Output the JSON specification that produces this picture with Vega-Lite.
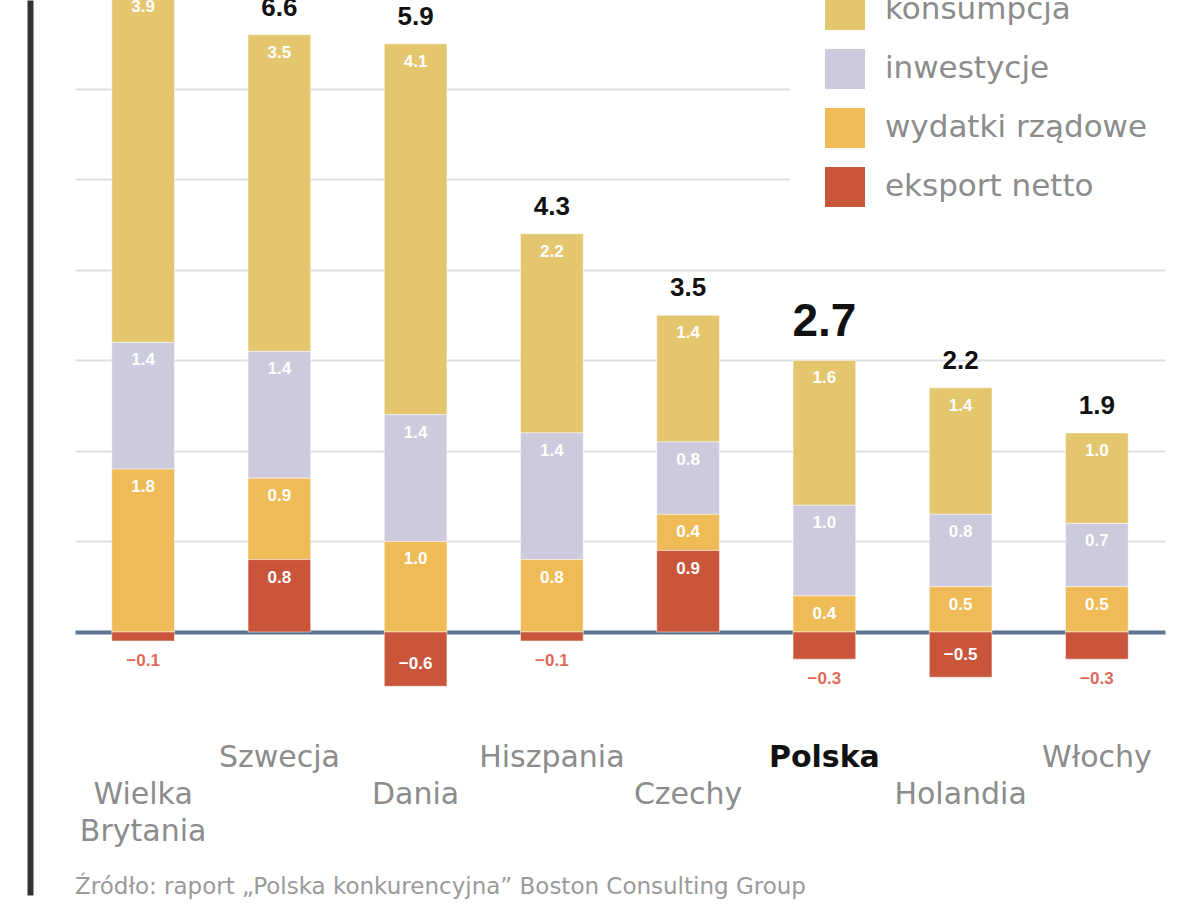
{
  "$schema": "https://vega.github.io/schema/vega-lite/v6.json",
  "width": 1090,
  "height": 895,
  "autosize": "none",
  "padding": {"left": 75, "top": 0, "right": 35, "bottom": 28},
  "background": "white",
  "config": {"view": {"stroke": null}, "font": "DejaVu Sans"},
  "title": {
    "text": "Źródło: raport „Polska konkurencyjna” Boston Consulting Group",
    "orient": "bottom",
    "anchor": "start",
    "frame": "group",
    "offset": -19,
    "baseline": "top",
    "fontSize": 23,
    "fontWeight": "normal",
    "color": "#9a9a9a"
  },
  "data": {
    "values": [
      {"kraj": "Wielka Brytania", "kategoria": "konsumpcja", "wartosc": 3.9},
      {"kraj": "Wielka Brytania", "kategoria": "inwestycje", "wartosc": 1.4},
      {"kraj": "Wielka Brytania", "kategoria": "wydatki rządowe", "wartosc": 1.8},
      {"kraj": "Wielka Brytania", "kategoria": "eksport netto", "wartosc": -0.1},
      {"kraj": "Szwecja", "kategoria": "konsumpcja", "wartosc": 3.5},
      {"kraj": "Szwecja", "kategoria": "inwestycje", "wartosc": 1.4},
      {"kraj": "Szwecja", "kategoria": "wydatki rządowe", "wartosc": 0.9},
      {"kraj": "Szwecja", "kategoria": "eksport netto", "wartosc": 0.8},
      {"kraj": "Dania", "kategoria": "konsumpcja", "wartosc": 4.1},
      {"kraj": "Dania", "kategoria": "inwestycje", "wartosc": 1.4},
      {"kraj": "Dania", "kategoria": "wydatki rządowe", "wartosc": 1.0},
      {"kraj": "Dania", "kategoria": "eksport netto", "wartosc": -0.6},
      {"kraj": "Hiszpania", "kategoria": "konsumpcja", "wartosc": 2.2},
      {"kraj": "Hiszpania", "kategoria": "inwestycje", "wartosc": 1.4},
      {"kraj": "Hiszpania", "kategoria": "wydatki rządowe", "wartosc": 0.8},
      {"kraj": "Hiszpania", "kategoria": "eksport netto", "wartosc": -0.1},
      {"kraj": "Czechy", "kategoria": "konsumpcja", "wartosc": 1.4},
      {"kraj": "Czechy", "kategoria": "inwestycje", "wartosc": 0.8},
      {"kraj": "Czechy", "kategoria": "wydatki rządowe", "wartosc": 0.4},
      {"kraj": "Czechy", "kategoria": "eksport netto", "wartosc": 0.9},
      {"kraj": "Polska", "kategoria": "konsumpcja", "wartosc": 1.6},
      {"kraj": "Polska", "kategoria": "inwestycje", "wartosc": 1.0},
      {"kraj": "Polska", "kategoria": "wydatki rządowe", "wartosc": 0.4},
      {"kraj": "Polska", "kategoria": "eksport netto", "wartosc": -0.3},
      {"kraj": "Holandia", "kategoria": "konsumpcja", "wartosc": 1.4},
      {"kraj": "Holandia", "kategoria": "inwestycje", "wartosc": 0.8},
      {"kraj": "Holandia", "kategoria": "wydatki rządowe", "wartosc": 0.5},
      {"kraj": "Holandia", "kategoria": "eksport netto", "wartosc": -0.5},
      {"kraj": "Włochy", "kategoria": "konsumpcja", "wartosc": 1.0},
      {"kraj": "Włochy", "kategoria": "inwestycje", "wartosc": 0.7},
      {"kraj": "Włochy", "kategoria": "wydatki rządowe", "wartosc": 0.5},
      {"kraj": "Włochy", "kategoria": "eksport netto", "wartosc": -0.3}
    ]
  },
  "transform": [
    {"calculate": "indexof(['eksport netto', 'wydatki rządowe', 'inwestycje', 'konsumpcja'], datum.kategoria)", "as": "kolejnosc"}
  ],
  "encoding": {
    "x": {
      "field": "kraj",
      "type": "nominal",
      "sort": null,
      "scale": {"paddingInner": 0.54, "paddingOuter": 0.27},
      "axis": {
        "orient": "bottom",
        "offset": -153,
        "title": null,
        "domain": false,
        "ticks": false,
        "labelAngle": 0,
        "labelPadding": 0,
        "labelBaseline": "top",
        "labelFontSize": 30,
        "labelLineHeight": 37,
        "labelOverlap": false,
        "labelLimit": 0,
        "labelExpr": "datum.value == 'Wielka Brytania' ? ['', 'Wielka', 'Brytania'] : indexof(['Dania', 'Czechy', 'Holandia'], datum.value) >= 0 ? ['', '', datum.value] : datum.value",
        "labelColor": {"condition": {"test": "datum.value == 'Polska'", "value": "#111111"}, "value": "#8c8c8c"},
        "labelFontWeight": {"condition": {"test": "datum.value == 'Polska'", "value": "bold"}, "value": "normal"}
      }
    },
    "y": {
      "field": "wartosc",
      "type": "quantitative",
      "stack": "zero",
      "scale": {"domain": [-2.906, 6.983], "nice": false, "zero": false},
      "axis": {
        "orient": "left",
        "offset": 45,
        "title": null,
        "labels": false,
        "ticks": false,
        "domainColor": "#333333",
        "domainWidth": 6,
        "grid": true,
        "values": [0, 1, 2, 3, 4, 5, 6],
        "gridColor": {"condition": {"test": "datum.value === 0", "value": "#5b7590"}, "value": "#d9dee4"},
        "gridWidth": {"condition": {"test": "datum.value === 0", "value": 4}, "value": 2}
      }
    },
    "order": {"field": "kolejnosc", "type": "quantitative"}
  },
  "layer": [
    {
      "mark": {"type": "bar", "clip": true, "stroke": "white", "strokeWidth": 0.5},
      "encoding": {
        "color": {
          "field": "kategoria",
          "type": "nominal",
          "scale": {
            "domain": ["konsumpcja", "inwestycje", "wydatki rządowe", "eksport netto"],
            "range": ["#e3c66e", "#cccadc", "#efbb56", "#c9553b"]
          },
          "legend": {
            "orient": "none",
            "legendX": 715,
            "legendY": -45,
            "title": null,
            "fillColor": "white",
            "padding": 35,
            "symbolType": "square",
            "symbolSize": 1600,
            "symbolStrokeWidth": 0,
            "symbolOpacity": 1,
            "rowPadding": 19,
            "labelFont": "DejaVu Sans",
            "labelFontSize": 31,
            "labelColor": "#8c8c8c",
            "labelOffset": 20,
            "labelLimit": 0
          }
        }
      }
    },
    {
      "transform": [{"filter": "datum.wartosc > 0"}],
      "mark": {"type": "text", "color": "white", "font": "Liberation Sans", "fontSize": 17, "fontWeight": "bold", "baseline": "middle", "dy": 18},
      "encoding": {
        "detail": {"field": "kategoria"},
        "text": {"field": "wartosc", "type": "quantitative", "format": ".1f"}
      }
    },
    {
      "transform": [{"filter": "datum.wartosc < 0 && datum.wartosc > -0.45"}],
      "mark": {"type": "text", "color": "#dd6a5a", "font": "Liberation Sans", "fontSize": 17, "fontWeight": "bold", "baseline": "middle", "dy": 20},
      "encoding": {
        "detail": {"field": "kategoria"},
        "text": {"field": "wartosc", "type": "quantitative", "format": ".1f"}
      }
    },
    {
      "transform": [{"filter": "datum.wartosc <= -0.45"}],
      "mark": {"type": "text", "color": "white", "font": "Liberation Sans", "fontSize": 17, "fontWeight": "bold", "baseline": "middle", "dy": -22},
      "encoding": {
        "detail": {"field": "kategoria"},
        "text": {"field": "wartosc", "type": "quantitative", "format": ".1f"}
      }
    },
    {
      "transform": [
        {"joinaggregate": [{"op": "sum", "field": "wartosc", "as": "suma"}], "groupby": ["kraj"]},
        {"filter": "datum.wartosc > 0"},
        {"aggregate": [{"op": "sum", "field": "wartosc", "as": "szczyt"}, {"op": "max", "field": "suma", "as": "suma"}], "groupby": ["kraj"]}
      ],
      "mark": {"type": "text", "color": "#111111", "font": "Liberation Sans", "fontWeight": "bold", "baseline": "bottom", "dy": -14},
      "encoding": {
        "y": {
          "field": "szczyt",
          "type": "quantitative",
          "scale": {"domain": [-2.906, 6.983], "nice": false, "zero": false},
          "axis": {
            "orient": "left",
            "offset": 45,
            "title": null,
            "labels": false,
            "ticks": false,
            "domainColor": "#333333",
            "domainWidth": 6,
            "grid": true,
            "values": [0, 1, 2, 3, 4, 5, 6],
            "gridColor": {"condition": {"test": "datum.value === 0", "value": "#5b7590"}, "value": "#d9dee4"},
            "gridWidth": {"condition": {"test": "datum.value === 0", "value": 4}, "value": 2}
          }
        },
        "order": null,
        "text": {"field": "suma", "type": "quantitative", "format": ".1f"},
        "size": {"condition": {"test": "datum.kraj == 'Polska'", "value": 46}, "value": 26}
      }
    }
  ]
}
